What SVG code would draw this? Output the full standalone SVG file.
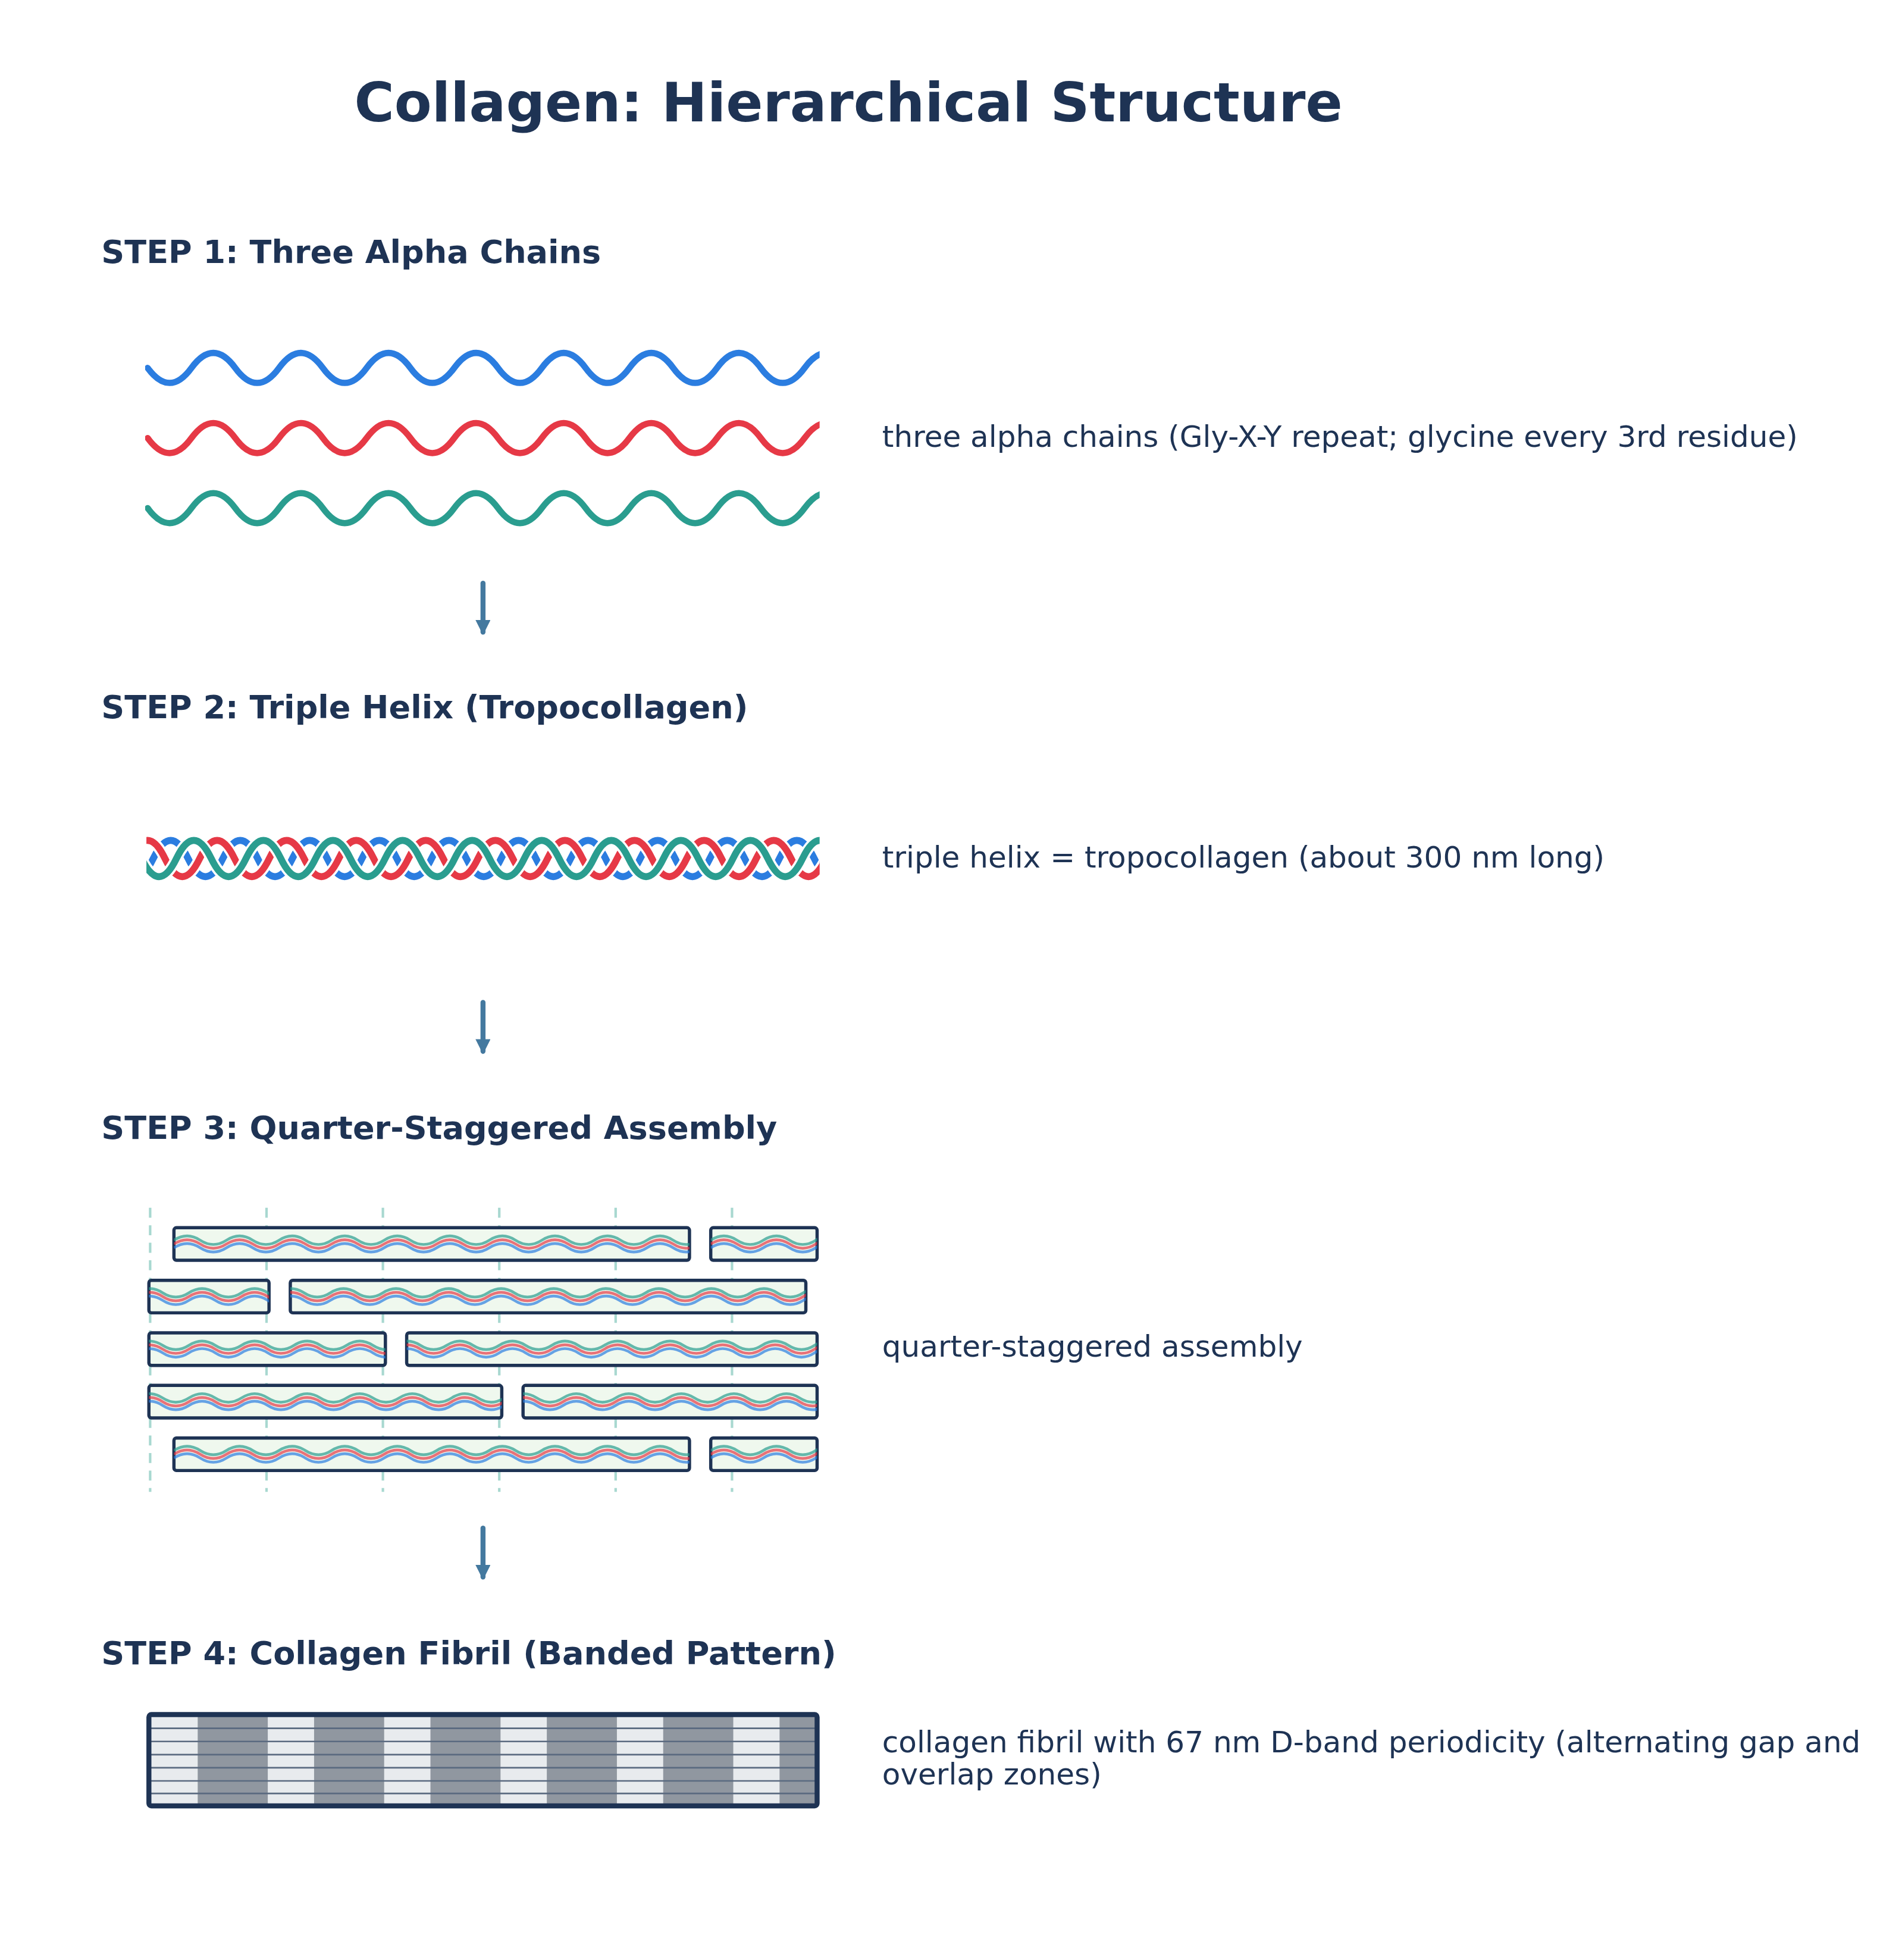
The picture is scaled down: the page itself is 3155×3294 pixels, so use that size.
<svg xmlns="http://www.w3.org/2000/svg" width="3155" height="3294" viewBox="0 0 3155 3294">
<style>
.t{font-family:"DejaVu Sans",sans-serif;fill:#1e3354}
.h{font-weight:bold;font-size:25.7px}
.l{font-size:23.8px}
.ar{stroke:#44799f;stroke-width:4;stroke-linecap:round;fill:none}
.box{fill:#eff8ee;stroke:#1e3354;stroke-width:2.6}
.sw{fill:none;stroke-width:2.2;opacity:0.7}
</style>
<defs>
<path id="w1" d="M118 0 Q135.5 24 153 0 T188 0 T223 0 T258 0 T293 0 T328 0 T363 0 T398 0 T433 0 T468 0 T503 0 T538 0 T573 0 T608 0 T643 0 T678 0" fill="none"/>
<path id="hx" d="M-55.6 0 Q-41.7 -29 -27.8 0 T0 0 T27.8 0 T55.6 0 T83.4 0 T111.2 0 T139 0 T166.8 0 T194.6 0 T222.4 0 T250.2 0 T278 0 T305.8 0 T333.6 0 T361.4 0 T389.2 0 T417 0 T444.8 0 T472.6 0 T500.4 0 T528.2 0 T556 0 T583.8 0" fill="none"/>
<path id="sw" d="M0 0 Q10.5 -6.8 21 0 T42 0 T63 0 T84 0 T105 0 T126 0 T147 0 T168 0 T189 0 T210 0 T231 0 T252 0 T273 0 T294 0 T315 0 T336 0 T357 0 T378 0 T399 0 T420 0 T441 0" fill="none"/>
<g id="s3">
<use href="#sw" y="-3" stroke="#2a9d8f" class="sw"/>
<use href="#sw" y="0" stroke="#e63946" class="sw"/>
<use href="#sw" y="3" stroke="#2b7de0" class="sw"/>
</g>
<clipPath id="c1"><rect x="116" y="250" width="539" height="200"/></clipPath>
<clipPath id="c2"><rect x="117" y="640" width="538" height="100"/></clipPath>
<marker id="ah" viewBox="0 0 10 10" refX="8" refY="5" markerWidth="3.5" markerHeight="3" orient="auto" markerUnits="strokeWidth"><path d="M0 0 L10 5 L0 10 Z" fill="#44799f"/></marker>
</defs>
<g transform="scale(2.1033)">
<rect x="0" y="0" width="1500" height="1566" fill="#fff"/>
<text class="t" x="678" y="97" text-anchor="middle" font-size="43.6" font-weight="bold">Collagen: Hierarchical Structure</text>

<g id="step1">
<text class="t h" x="81" y="210">STEP 1: Three Alpha Chains</text>
<g clip-path="url(#c1)" fill="none" stroke-width="5" stroke-linecap="round">
<use href="#w1" y="294" stroke="#2b7de0"/>
<use href="#w1" y="350" stroke="#e63946"/>
<use href="#w1" y="406" stroke="#2a9d8f"/>
</g>
<text class="t l" x="705" y="357">three alpha chains (Gly-X-Y repeat; glycine every 3rd residue)</text>
</g>

<g id="step2">
<text class="t h" x="81" y="574">STEP 2: Triple Helix (Tropocollagen)</text>
<g clip-path="url(#c2)" fill="none">
<use href="#hx" transform="translate(122.5 686)" stroke="#fff" stroke-width="9"/>
<use href="#hx" transform="translate(122.5 686)" stroke="#2b7de0" stroke-width="5.5"/>
<use href="#hx" transform="translate(104 686)" stroke="#fff" stroke-width="9"/>
<use href="#hx" transform="translate(104 686)" stroke="#e63946" stroke-width="5.5"/>
<use href="#hx" transform="translate(141 686)" stroke="#fff" stroke-width="9"/>
<use href="#hx" transform="translate(141 686)" stroke="#2a9d8f" stroke-width="5.5"/>
</g>
<text class="t l" x="705" y="693">triple helix = tropocollagen (about 300 nm long)</text>
</g>

<g id="step3">
<text class="t h" x="81" y="910">STEP 3: Quarter-Staggered Assembly</text>
<g stroke="#a8d8d0" stroke-width="2" stroke-dasharray="8,6">
<line x1="120" y1="965" x2="120" y2="1192"/>
<line x1="213" y1="965" x2="213" y2="1192"/>
<line x1="306" y1="965" x2="306" y2="1192"/>
<line x1="399" y1="965" x2="399" y2="1192"/>
<line x1="492" y1="965" x2="492" y2="1192"/>
<line x1="585" y1="965" x2="585" y2="1192"/>
</g>
<clipPath id="b1"><rect x="139" y="981" width="412" height="26"/></clipPath>
<clipPath id="b2"><rect x="568" y="981" width="85" height="26"/></clipPath>
<clipPath id="b3"><rect x="119" y="1023" width="96" height="26"/></clipPath>
<clipPath id="b4"><rect x="232" y="1023" width="412" height="26"/></clipPath>
<clipPath id="b5"><rect x="119" y="1065" width="189" height="26"/></clipPath>
<clipPath id="b6"><rect x="325" y="1065" width="328" height="26"/></clipPath>
<clipPath id="b7"><rect x="119" y="1107" width="282" height="26"/></clipPath>
<clipPath id="b8"><rect x="418" y="1107" width="235" height="26"/></clipPath>
<clipPath id="b9"><rect x="139" y="1149" width="412" height="26"/></clipPath>
<clipPath id="b10"><rect x="568" y="1149" width="85" height="26"/></clipPath>
<rect class="box" x="139" y="981" width="412" height="26" rx="2"/>
<g clip-path="url(#b1)"><use href="#s3" transform="translate(139 994)"/></g>
<rect class="box" x="568" y="981" width="85" height="26" rx="2"/>
<g clip-path="url(#b2)"><use href="#s3" transform="translate(568 994)"/></g>
<rect class="box" x="119" y="1023" width="96" height="26" rx="2"/>
<g clip-path="url(#b3)"><use href="#s3" transform="translate(109 1036)"/></g>
<rect class="box" x="232" y="1023" width="412" height="26" rx="2"/>
<g clip-path="url(#b4)"><use href="#s3" transform="translate(222 1036)"/></g>
<rect class="box" x="119" y="1065" width="189" height="26" rx="2"/>
<g clip-path="url(#b5)"><use href="#s3" transform="translate(109 1078)"/></g>
<rect class="box" x="325" y="1065" width="328" height="26" rx="2"/>
<g clip-path="url(#b6)"><use href="#s3" transform="translate(315 1078)"/></g>
<rect class="box" x="119" y="1107" width="282" height="26" rx="2"/>
<g clip-path="url(#b7)"><use href="#s3" transform="translate(109 1120)"/></g>
<rect class="box" x="418" y="1107" width="235" height="26" rx="2"/>
<g clip-path="url(#b8)"><use href="#s3" transform="translate(408 1120)"/></g>
<rect class="box" x="139" y="1149" width="412" height="26" rx="2"/>
<g clip-path="url(#b9)"><use href="#s3" transform="translate(139 1162)"/></g>
<rect class="box" x="568" y="1149" width="85" height="26" rx="2"/>
<g clip-path="url(#b10)"><use href="#s3" transform="translate(568 1162)"/></g>
<text class="t l" x="705" y="1084">quarter-staggered assembly</text>
</g>

<g id="step4">
<text class="t h" x="81" y="1330">STEP 4: Collagen Fibril (Banded Pattern)</text>
<rect x="119" y="1371" width="534" height="71" fill="#e8ebee"/>
<g fill="#9097a0">
<rect x="158" y="1371" width="56" height="71"/>
<rect x="251" y="1371" width="56" height="71"/>
<rect x="344" y="1371" width="56" height="71"/>
<rect x="437" y="1371" width="56" height="71"/>
<rect x="530" y="1371" width="56" height="71"/>
<rect x="623" y="1371" width="30" height="71"/>
</g>
<g stroke="#5a6a80" stroke-width="1.3">
<line x1="119" y1="1381" x2="653" y2="1381"/>
<line x1="119" y1="1391.5" x2="653" y2="1391.5"/>
<line x1="119" y1="1402" x2="653" y2="1402"/>
<line x1="119" y1="1412.5" x2="653" y2="1412.5"/>
<line x1="119" y1="1423" x2="653" y2="1423"/>
<line x1="119" y1="1433" x2="653" y2="1433"/>
</g>
<rect x="119" y="1370" width="534" height="73" rx="2" fill="none" stroke="#1e3354" stroke-width="4"/>
<text class="t l" x="705" y="1400">collagen fibril with 67 nm D-band periodicity (alternating gap and</text>
<text class="t l" x="705" y="1426">overlap zones)</text>
</g>

<g id="connectors">
<line class="ar" x1="386" y1="466" x2="386" y2="505" marker-end="url(#ah)"/>
<line class="ar" x1="386" y1="801" x2="386" y2="840" marker-end="url(#ah)"/>
<line class="ar" x1="386" y1="1221" x2="386" y2="1260" marker-end="url(#ah)"/>
</g>
</g>
</svg>
